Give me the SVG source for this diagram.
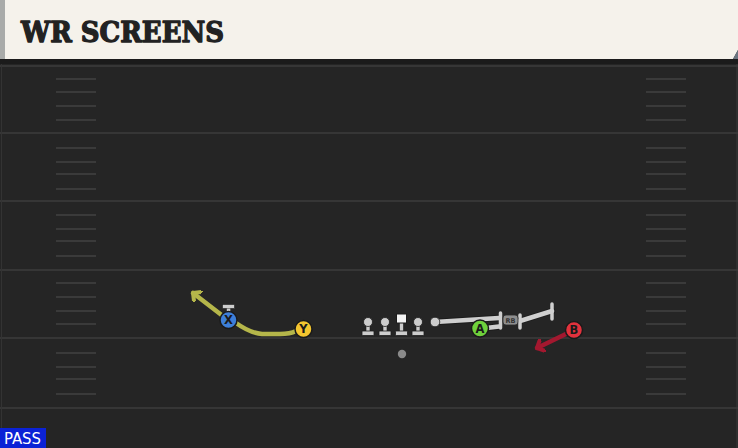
<svg xmlns="http://www.w3.org/2000/svg" width="738" height="448" viewBox="0 0 738 448">
<style>
.yard{stroke:#363636;stroke-width:2}
.hash{stroke:#3a3a3a;stroke-width:2}
.ol{fill:#cdcdcd;stroke:#1c1c1c;stroke-width:0.8}
.blkO{fill:none;stroke:#1c1c1c;stroke-width:6.5;stroke-linecap:round;stroke-linejoin:round}
.blk{fill:none;stroke:#cfcfcf;stroke-width:4.5;stroke-linecap:round;stroke-linejoin:round}
.bar{stroke:#cfcfcf;stroke-width:3.5;stroke-linecap:round}
.pl{stroke:#1a1a1a;stroke-width:1.5}
.lbl{font-family:"DejaVu Sans","Liberation Sans",sans-serif;font-weight:bold;font-size:11.5px;fill:#1a1a1a;text-anchor:middle}
</style>
<defs>
<marker id="arrY" markerUnits="userSpaceOnUse" markerWidth="14" markerHeight="14" refX="7" refY="7" orient="auto">
<path d="M1,1 L7,7 L1,13" fill="none" stroke="#b5b64a" stroke-width="4" stroke-linecap="round" stroke-linejoin="round"/>
</marker>
<marker id="arrR" markerUnits="userSpaceOnUse" markerWidth="14" markerHeight="14" refX="7" refY="7" orient="auto">
<path d="M1,1 L7,7 L1,13" fill="none" stroke="#a3182f" stroke-width="4" stroke-linecap="round" stroke-linejoin="round"/>
</marker>
<g id="olman">
<rect x="-2" y="0" width="4" height="10" fill="#cdcdcd" stroke="#1c1c1c" stroke-width="0.6"/>
<rect x="-6" y="9" width="12" height="4.5" rx="0.8" class="ol"/>
<circle cx="0" cy="0" r="4.5" class="ol"/>
</g>
</defs>

<g id="field">
<rect x="0" y="0" width="738" height="448" fill="#252525"/>
<rect x="0" y="59" width="738" height="5" fill="#1b1b1b"/>
<line x1="0" y1="66" x2="738" y2="66" class="yard"/>
<line x1="0" y1="133" x2="738" y2="133" class="yard"/>
<line x1="0" y1="201" x2="738" y2="201" class="yard"/>
<line x1="0" y1="270" x2="738" y2="270" class="yard"/>
<line x1="0" y1="338" x2="738" y2="338" class="yard"/>
<line x1="0" y1="408" x2="738" y2="408" class="yard"/>
<line x1="1.5" y1="64" x2="1.5" y2="448" stroke="#333" stroke-width="1"/>
<line x1="737" y1="64" x2="737" y2="448" stroke="#3a3a3a" stroke-width="1"/>
<g class="hash">
<line x1="56" y1="79" x2="96" y2="79"/><line x1="56" y1="92" x2="96" y2="92"/><line x1="56" y1="106" x2="96" y2="106"/><line x1="56" y1="120" x2="96" y2="120"/>
<line x1="56" y1="148" x2="96" y2="148"/><line x1="56" y1="162" x2="96" y2="162"/><line x1="56" y1="174" x2="96" y2="174"/><line x1="56" y1="189" x2="96" y2="189"/>
<line x1="56" y1="215" x2="96" y2="215"/><line x1="56" y1="229" x2="96" y2="229"/><line x1="56" y1="241" x2="96" y2="241"/><line x1="56" y1="256" x2="96" y2="256"/>
<line x1="56" y1="283" x2="96" y2="283"/><line x1="56" y1="297" x2="96" y2="297"/><line x1="56" y1="311" x2="96" y2="311"/><line x1="56" y1="324" x2="96" y2="324"/>
<line x1="56" y1="353" x2="96" y2="353"/><line x1="56" y1="367" x2="96" y2="367"/><line x1="56" y1="379" x2="96" y2="379"/><line x1="56" y1="394" x2="96" y2="394"/>
<line x1="646" y1="79" x2="686" y2="79"/><line x1="646" y1="92" x2="686" y2="92"/><line x1="646" y1="106" x2="686" y2="106"/><line x1="646" y1="120" x2="686" y2="120"/>
<line x1="646" y1="148" x2="686" y2="148"/><line x1="646" y1="162" x2="686" y2="162"/><line x1="646" y1="174" x2="686" y2="174"/><line x1="646" y1="189" x2="686" y2="189"/>
<line x1="646" y1="215" x2="686" y2="215"/><line x1="646" y1="229" x2="686" y2="229"/><line x1="646" y1="241" x2="686" y2="241"/><line x1="646" y1="256" x2="686" y2="256"/>
<line x1="646" y1="283" x2="686" y2="283"/><line x1="646" y1="297" x2="686" y2="297"/><line x1="646" y1="311" x2="686" y2="311"/><line x1="646" y1="324" x2="686" y2="324"/>
<line x1="646" y1="353" x2="686" y2="353"/><line x1="646" y1="367" x2="686" y2="367"/><line x1="646" y1="379" x2="686" y2="379"/><line x1="646" y1="394" x2="686" y2="394"/>
</g>
</g>

<g id="header">
<path d="M0,0 H738 V50 L733,59 H0 Z" fill="#f5f2eb"/>
<path d="M733,59 L738,50 V59 Z" fill="#6b7580"/>
<rect x="0" y="0" width="5" height="59" fill="#a9aba9"/>
<text x="21" y="42" font-family="'DejaVu Serif','Liberation Serif',serif" font-weight="bold" font-size="27" fill="#222" stroke="#222" stroke-width="1.3" stroke-linejoin="round" textLength="203" lengthAdjust="spacingAndGlyphs">WR SCREENS</text>
</g>

<g id="connectors">
<path d="M228,320 L193,293" fill="none" stroke="#b5b64a" stroke-width="4.5" stroke-linecap="round" marker-end="url(#arrY)"/>
<path d="M296,331 Q290,334 280,334 L262,334 Q250,333 236,323" fill="none" stroke="#b5b64a" stroke-width="4.5" stroke-linecap="round"/>
<g id="block-lines">
<path d="M435,322 L499,318 M486,328 L499,326.5 M520,321 L552,311" class="blkO"/>
<path d="M435,322 L499,318 M486,328 L499,326.5 M520,321 L552,311" class="blk"/>
<line x1="500.5" y1="313" x2="500.5" y2="328" class="bar"/>
<line x1="520" y1="315" x2="520" y2="328" class="bar"/>
<line x1="552" y1="304" x2="552" y2="319" class="bar"/>
</g>
<path d="M568,333 L537,348" fill="none" stroke="#a3182f" stroke-width="4.5" stroke-linecap="round" marker-end="url(#arrR)"/>
<g id="x-block">
<rect x="222.5" y="304.5" width="12" height="4" fill="#cdcdcd" stroke="#1c1c1c" stroke-width="0.6"/>
<rect x="226.8" y="308.5" width="3.5" height="4" fill="#cdcdcd"/>
</g>
</g>

<g id="line-LG"><use href="#olman" x="368" y="322"/></g>
<g id="line-LG2"><use href="#olman" x="385" y="322"/></g>
<g id="line-C">
<rect x="399.5" y="322" width="4" height="10" fill="#cdcdcd" stroke="#1c1c1c" stroke-width="0.6"/>
<rect x="395.5" y="331" width="12" height="4.5" rx="0.8" class="ol"/>
<rect x="396.5" y="314" width="10" height="9" fill="#f4f4f4" stroke="#1c1c1c" stroke-width="1"/>
</g>
<g id="line-RG"><use href="#olman" x="418" y="322"/></g>
<g id="line-RT"><circle cx="435" cy="322" r="4.8" class="ol"/></g>
<g id="qb"><circle cx="402" cy="354" r="4.2" fill="#8a8a8a"/></g>

<g id="rb">
<rect x="503" y="315" width="15" height="10" rx="3" fill="#8e8e8e" stroke="#2a2a2a" stroke-width="0.8"/>
<text x="510.5" y="323" font-family="'DejaVu Sans','Liberation Sans',sans-serif" font-weight="bold" font-size="6.5" fill="#333" text-anchor="middle">RB</text>
</g>

<g id="player-X">
<circle cx="228.5" cy="320" r="8.5" fill="#3d7fd9" class="pl"/>
<text x="228.5" y="324" class="lbl">X</text>
</g>
<g id="player-Y">
<circle cx="303.5" cy="329" r="8.5" fill="#f3c52f" class="pl"/>
<text x="303.5" y="333" class="lbl">Y</text>
</g>
<g id="player-A">
<circle cx="480" cy="328.5" r="8.5" fill="#6fd13c" class="pl"/>
<text x="480" y="332.5" class="lbl">A</text>
</g>
<g id="player-B">
<circle cx="574" cy="330" r="8.5" fill="#e2323d" class="pl"/>
<text x="574" y="334" class="lbl">B</text>
</g>

<g id="pass-tag">
<rect x="0" y="428" width="46" height="20" fill="#0b22d6"/>
<text x="4" y="444" font-family="'DejaVu Sans Condensed','DejaVu Sans',sans-serif" font-size="15" fill="#fff" textLength="37" lengthAdjust="spacingAndGlyphs">PASS</text>
</g>
</svg>
